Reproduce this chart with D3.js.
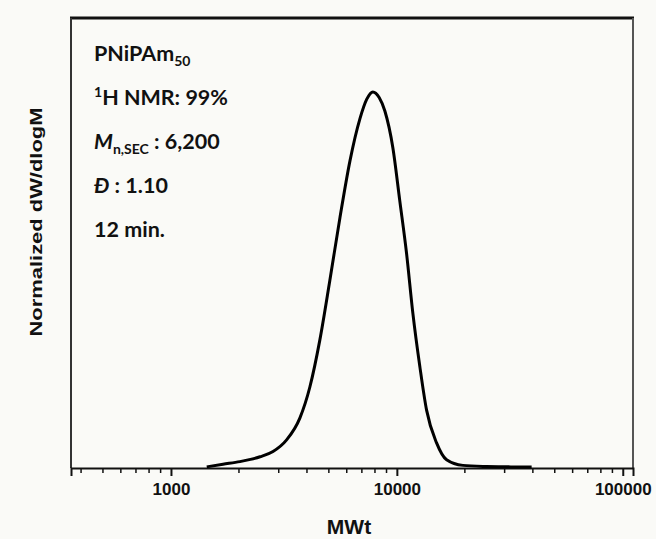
<!DOCTYPE html>
<html>
<head>
<meta charset="utf-8">
<script src="https://cdn.jsdelivr.net/npm/d3@7"></script>
<style>
  body { margin: 0; background: #fafaf7; }
  svg { display: block; }
</style>
</head>
<body>
<svg id="chart"></svg>
<script>
var width = 656,
    height = 539,
    margin = {top: 18, right: 23, bottom: 71, left: 71};

// SEC trace (molecular weight vs normalized dW/dlogM)
var mw = [1440, 1700, 2020, 2250, 2480, 2830, 3250, 3720, 4120, 4560, 5050, 5600, 6200, 6860, 7350, 7830, 8350, 8850, 9600, 10300, 11040, 11770, 12650, 13530, 14990, 16600, 19600, 25000, 32000, 39500];
var dw = [0.0, 0.007, 0.014, 0.02, 0.027, 0.041, 0.072, 0.13, 0.213, 0.338, 0.497, 0.665, 0.816, 0.928, 0.98, 1.0, 0.985, 0.949, 0.851, 0.71, 0.569, 0.41, 0.266, 0.152, 0.064, 0.019, 0.004, 0.001, 0.0, 0.0];

var xTicks = [1000, 10000, 100000];
var xMinor = [400, 500, 600, 700, 800, 900,
              2000, 3000, 4000, 5000, 6000, 7000, 8000, 9000,
              20000, 30000, 40000, 50000, 60000, 70000, 80000, 90000];

var infoLines = [
  [{t: "PNiPAm"}, {t: "50", sub: true}],
  [{t: "1", sup: true}, {t: "H NMR: 99%"}],
  [{t: "M", it: true}, {t: "n,SEC", sub: true}, {t: " : 6,200"}],
  [{t: "Đ", it: true}, {t: " : 1.10"}],
  [{t: "12 min."}]
];

var axisFont = "Arial, 'Liberation Sans', Helvetica, sans-serif";

var svg = d3.select("#chart").attr("width", width).attr("height", height);

var x = d3.scaleLog()
    .domain([361, 111000])
    .range([margin.left, width - margin.right]);

var y = d3.scaleLinear()
    .domain([-0.003, 1.197])
    .range([height - margin.bottom, margin.top]);

var plotBottom = height - margin.bottom;

// frame
svg.append("line")
    .attr("x1", margin.left - 1).attr("x2", width - margin.right + 1)
    .attr("y1", margin.top).attr("y2", margin.top)
    .attr("stroke", "#111").attr("stroke-width", 3);
svg.append("line")
    .attr("x1", margin.left).attr("x2", margin.left)
    .attr("y1", margin.top).attr("y2", plotBottom)
    .attr("stroke", "#333").attr("stroke-width", 2);
svg.append("line")
    .attr("x1", width - margin.right).attr("x2", width - margin.right)
    .attr("y1", margin.top).attr("y2", plotBottom)
    .attr("stroke", "#555").attr("stroke-width", 2);

// x axis: major ticks with labels, minor ticks shorter
var xAxis = svg.append("g")
    .attr("transform", "translate(0," + plotBottom + ")")
    .call(d3.axisBottom(x).tickValues(xTicks).tickFormat(d3.format("d")).tickSize(8).tickPadding(7));
xAxis.attr("font-family", axisFont);
xAxis.select(".domain").attr("stroke", "#111").attr("stroke-width", 2);
xAxis.selectAll(".tick line").attr("stroke", "#111").attr("stroke-width", 2);
xAxis.selectAll(".tick text")
    .style("font-family", axisFont)
    .attr("font-weight", "bold")
    .attr("font-size", 17)
    .attr("fill", "#111");

svg.append("g").selectAll("line")
    .data(xMinor)
    .enter().append("line")
    .attr("x1", function(d) { return x(d); })
    .attr("x2", function(d) { return x(d); })
    .attr("y1", plotBottom)
    .attr("y2", plotBottom + 5)
    .attr("stroke", "#111")
    .attr("stroke-width", 1.5);

// trace
var line = d3.line()
    .x(function(d, i) { return x(mw[i]); })
    .y(function(d) { return y(d); })
    .curve(d3.curveMonotoneX);

svg.append("path")
    .datum(dw)
    .attr("d", line)
    .attr("fill", "none")
    .attr("stroke", "#000")
    .attr("stroke-width", 3)
    .attr("stroke-linejoin", "round");

// axis titles
svg.append("text")
    .attr("x", (margin.left + width - margin.right) / 2 - 3)
    .attr("y", 534)
    .attr("text-anchor", "middle")
    .style("font-family", axisFont)
    .attr("font-weight", "bold")
    .attr("font-size", 21)
    .attr("fill", "#111")
    .text("MWt");

svg.append("text")
    .attr("transform", "translate(42,222) rotate(-90)")
    .attr("text-anchor", "middle")
    .style("font-family", axisFont)
    .attr("font-weight", "bold")
    .attr("font-size", 17)
    .attr("fill", "#111")
    .attr("textLength", 229)
    .attr("lengthAdjust", "spacingAndGlyphs")
    .text("Normalized dW/dlogM");

// info block
var info = svg.append("g")
    .style("font-family", "Lato, 'Open Sans', sans-serif")
    .attr("font-weight", "bold")
    .attr("fill", "#111");

infoLines.forEach(function(parts, i) {
  var t = info.append("text")
      .attr("x", 94)
      .attr("y", 61 + i * 44)
      .attr("font-size", 21.5);
  var shift = 0;
  parts.forEach(function(p) {
    var s = t.append("tspan").text(p.t);
    var dy = -shift;
    shift = 0;
    if (p.it) s.attr("font-style", "italic");
    if (p.sub) { s.attr("font-size", 14); shift = 5; }
    if (p.sup) { s.attr("font-size", 14); shift = -8; }
    dy += shift;
    if (dy) s.attr("dy", dy);
  });
});
</script>
</body>
</html>
